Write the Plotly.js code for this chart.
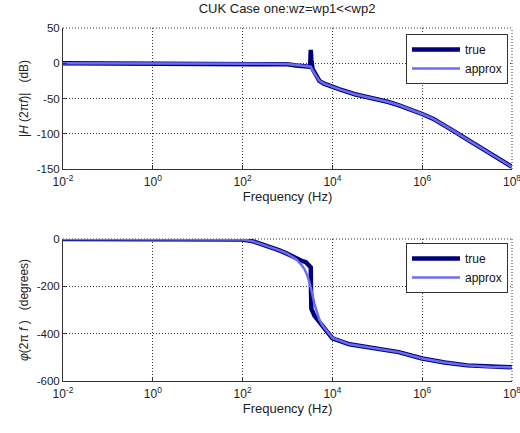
<!DOCTYPE html>
<html>
<head>
<meta charset="utf-8">
<script src="https://cdn.plot.ly/plotly-3.0.1.min.js"></script>
<style>html,body{margin:0;padding:0;background:#fff;}#chart{width:520px;height:433px;}</style>
</head>
<body>
<div id="chart"></div>
<script>
// Magnitude (dB)
const magTrueFreq = [0.01, 1, 100, 300, 470, 700, 1000, 1550, 2570, 3000, 3200, 3300, 3400, 3600, 4170, 5130, 6500, 8500, 14500, 31600, 100000, 178000, 316000, 562000, 1000000, 1780000, 3160000, 5620000, 10000000, 31600000, 100000000];
const magTrue     = [0, 0, 0, 0, -0.3, -0.8, -1.5, -3.3, -4.7, -5, -3, 19, 5, -8, -15, -25, -29, -32, -37, -44, -51, -55, -60, -65.5, -72, -79, -88, -98, -108, -127, -147];
const magApproxFreq = [0.01, 1, 100, 300, 470, 700, 1000, 1550, 2570, 3300, 3600, 4170, 5130, 6500, 8500, 14500, 31600, 100000, 178000, 316000, 562000, 1000000, 1780000, 3160000, 5620000, 10000000, 31600000, 100000000];
const magApprox     = [0, 0, 0, 0, -0.3, -0.6, -1, -2.5, -4, -5, -10, -17, -25, -29, -32, -37, -44, -51, -55, -60, -65.5, -72, -79, -88, -98, -108, -127, -147];
// Phase (degrees)
const phTrueFreq = [0.01, 1, 30, 100, 170, 280, 450, 660, 1000, 1550, 2000, 2570, 3300, 3330, 3350, 3400, 4000, 4800, 5800, 7250, 10000, 24000, 100000, 300000, 1000000, 3160000, 10000000, 31600000, 100000000];
const phTrue     = [0, 0, 0, -2, -10, -23, -35, -48, -63, -82, -91, -98, -120, -200, -260, -295, -325, -345, -368, -387, -420, -445, -463, -478, -505, -522, -534, -540, -542];
const phApproxFreq = [0.01, 1, 30, 100, 170, 280, 450, 660, 1000, 1550, 2000, 2400, 2800, 3300, 4000, 5100, 6000, 7250, 10000, 24000, 100000, 300000, 1000000, 3160000, 10000000, 31600000, 100000000];
const phApprox     = [0, 0, 0, -2, -10, -23, -35, -48, -63, -85, -107, -128, -156, -205, -275, -340, -365, -383, -418, -445, -463, -478, -505, -522, -534, -540, -542];

const xTickVals = [0.01, 1, 100, 10000, 1000000, 100000000];
const xTickText = ['10<sup>-2</sup>', '10<sup>0</sup>', '10<sup>2</sup>', '10<sup>4</sup>', '10<sup>6</sup>', '10<sup>8</sup>'];
const magTickVals = [50, 0, -50, -100, -150];
const magTickText = ['50', '0', '-50', '-100', '-150'];
const phTickVals = [0, -200, -400, -600];
const phTickText = ['0', '-200', '-400', '-600'];

const titleText = 'CUK Case one:wz=wp1&lt;&lt;wp2';
const trueColor = '#00007a';
const approxColor = '#6c6cf2';

const traces = [
  {x: magTrueFreq, y: magTrue, name: 'true', mode: 'lines', line: {color: trueColor, width: 4.5}, xaxis: 'x', yaxis: 'y', legend: 'legend'},
  {x: magApproxFreq, y: magApprox, name: 'approx', mode: 'lines', line: {color: approxColor, width: 2.5}, xaxis: 'x', yaxis: 'y', legend: 'legend'},
  {x: phTrueFreq, y: phTrue, name: 'true', mode: 'lines', line: {color: trueColor, width: 4.5}, xaxis: 'x2', yaxis: 'y2', legend: 'legend2'},
  {x: phApproxFreq, y: phApprox, name: 'approx', mode: 'lines', line: {color: approxColor, width: 2.5}, xaxis: 'x2', yaxis: 'y2', legend: 'legend2'}
];

const fam = 'Liberation Sans, Arial, sans-serif';
const xTickFont = {family: fam, size: 12, color: '#222'};
const yTickFont = {family: fam, size: 11.5, color: '#222'};
const labelFont = {family: fam, size: 13, color: '#222'};
const gridDash = '1px,2px';
const gridColor = '#333';
function xax(anchor) {
  return {
    type: 'log', range: [-2, 8], anchor: anchor,
    tickvals: xTickVals, ticktext: xTickText,
    ticks: 'inside', ticklen: 4, tickcolor: '#333',
    showline: true, linecolor: '#333', linewidth: 1,
    showgrid: true, gridcolor: gridColor, griddash: gridDash, gridwidth: 1,
    zeroline: false, tickfont: xTickFont, ticklabeloverflow: 'allow',
    ticklabelstandoff: 2,
    title: {text: 'Frequency (Hz)', font: labelFont, standoff: 3}
  };
}
function yax(anchor, domain, range, vals, text, title) {
  return {
    anchor: anchor, domain: domain, range: range,
    tickvals: vals, ticktext: text,
    ticks: 'inside', ticklen: 4, tickcolor: '#333',
    showline: true, linecolor: '#333', linewidth: 1,
    showgrid: true, gridcolor: gridColor, griddash: gridDash, gridwidth: 1,
    zeroline: false, tickfont: yTickFont, ticklabeloverflow: 'allow',
    title: {text: title, font: {family: fam, size: 12, color: '#222'}, standoff: 5}
  };
}
const legendBase = {
  xanchor: 'right', x: 0.991, yanchor: 'top',
  bgcolor: '#fff', bordercolor: '#333', borderwidth: 1,
  font: {family: fam, size: 12, color: '#111'},
  itemwidth: 48
};
function border(xr, yr) {
  const ln = {color: gridColor, width: 1, dash: gridDash};
  return [
    {type: 'line', xref: xr + ' domain', yref: yr + ' domain', x0: 0, x1: 1, y0: 1, y1: 1, line: ln, layer: 'below'},
    {type: 'line', xref: xr + ' domain', yref: yr + ' domain', x0: 1, x1: 1, y0: 0, y1: 1, line: ln, layer: 'below'}
  ];
}

const layout = {
  width: 520, height: 433,
  margin: {l: 63, r: 8, t: 28, b: 52},
  paper_bgcolor: '#fff', plot_bgcolor: '#fff',
  showlegend: true,
  title: {text: titleText, font: labelFont, x: 0.552, xanchor: 'center', y: 0.992, yanchor: 'top'},
  xaxis: xax('y'),
  yaxis: yax('x', [0.6006, 1], [-150, 50], magTickVals, magTickText, '|<i>H</i> (2π<i>f</i>)|   (dB)'),
  xaxis2: xax('y2'),
  yaxis2: yax('x2', [0, 0.4023], [-600, 0], phTickVals, phTickText, '<i>φ</i>(2π <i>f</i> )   (degrees)'),
  legend: Object.assign({}, legendBase, {y: 0.983}),
  legend2: Object.assign({}, legendBase, {y: 0.391}),
  shapes: border('x', 'y').concat(border('x2', 'y2'))
};

Plotly.newPlot('chart', traces, layout, {displayModeBar: false, staticPlot: true});
</script>
</body>
</html>
